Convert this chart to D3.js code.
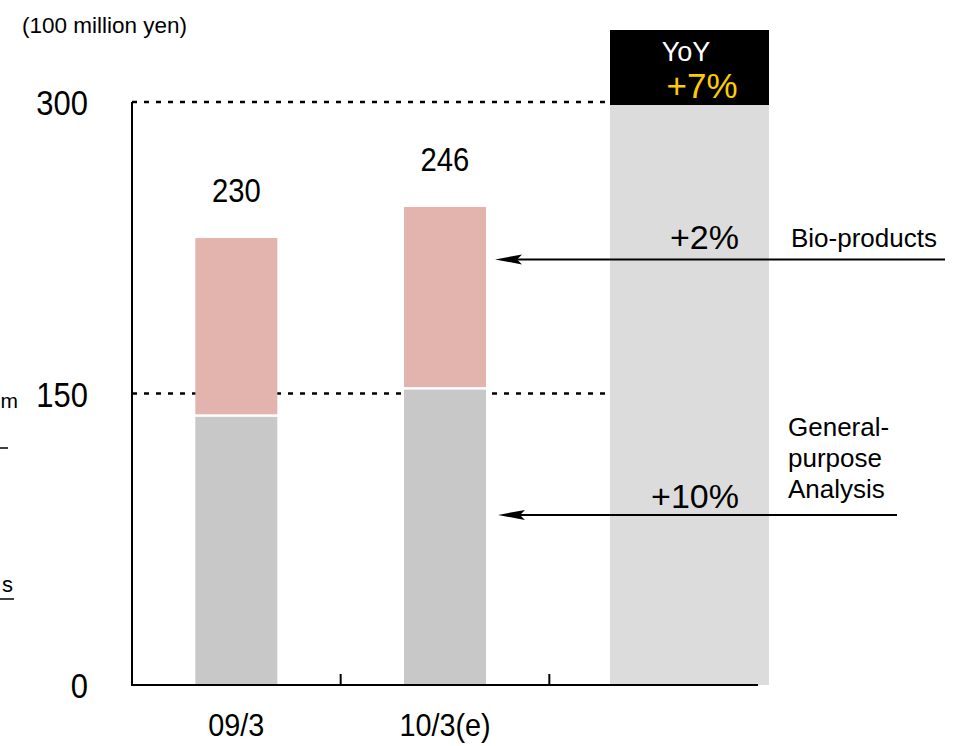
<!DOCTYPE html>
<html>
<head>
<meta charset="utf-8">
<script src="https://cdn.jsdelivr.net/npm/d3@7"></script>
<style>
  body { margin: 0; background: #fff; }
  svg { display: block; font-family: "Liberation Sans", Arial, sans-serif; }
</style>
</head>
<body>
<div id="chart"></div>
<script>
// data (100 million yen)
var categories = ["09/3", "10/3(e)", "YoY"];
var generalPurpose = [138, 152];
var bioProducts = [92, 94];
var totals = [230, 246];
var yTicks = [0, 150, 300];
var gridTicks = [150, 300];
var yoyTotal = "+7%";
var segmentNames = ["Bio-products", ["General-", "purpose", "Analysis"]];
var segmentGrowth = ["+2%", "+10%"];
var arrowLevels = [219, 87.5];

var width = 956, height = 746;
var svg = d3.select("#chart").append("svg")
    .attr("width", width)
    .attr("height", height);

var x = d3.scaleBand()
    .domain(categories)
    .range([132, 758])
    .padding(0);

var y = d3.scaleLinear()
    .domain([0, 300])
    .range([685, 102]);

var barWidth = 82;
var colX0 = 610, colX1 = 769;

// condensed text helper (the original uses a narrow gothic face)
function narrowText(g, px, py, str, size, sx, anchor) {
  g.append("g")
    .attr("transform", "translate(" + px + "," + py + ")")
    .append("text")
    .attr("transform", "scale(" + sx + ",1)")
    .attr("text-anchor", anchor)
    .attr("font-size", size)
    .attr("fill", "#000")
    .text(str);
}

// YoY column
svg.append("rect")
    .attr("x", colX0).attr("y", y(300) + 3)
    .attr("width", colX1 - colX0).attr("height", y(0) - y(300) - 3)
    .attr("fill", "#dcdcdc");
svg.append("rect")
    .attr("x", colX0).attr("y", 30)
    .attr("width", colX1 - colX0).attr("height", y(300) + 3 - 30)
    .attr("fill", "#000");
svg.append("text")
    .attr("x", 686).attr("y", 61)
    .attr("text-anchor", "middle")
    .attr("font-size", 27)
    .attr("fill", "#fff")
    .text("YoY");
svg.append("text")
    .attr("x", 702).attr("y", 98)
    .attr("text-anchor", "middle")
    .attr("font-size", 35)
    .attr("fill", "#ffcc00")
    .text(yoyTotal);

// dashed gridlines
svg.selectAll("line.grid")
    .data(gridTicks)
    .enter().append("line")
    .attr("class", "grid")
    .attr("x1", 132).attr("x2", colX0)
    .attr("y1", function (d) { return y(d); })
    .attr("y2", function (d) { return y(d); })
    .attr("stroke", "#000")
    .attr("stroke-width", 2.5)
    .attr("stroke-dasharray", "5,7");

// stacked bars
var barData = generalPurpose.map(function (g, i) {
  return { cat: categories[i], gp: g, bio: bioProducts[i], total: totals[i] };
});

var bars = svg.selectAll("g.bar")
    .data(barData)
    .enter().append("g")
    .attr("class", "bar");

bars.append("rect")
    .attr("x", function (d) { return x(d.cat) + x.bandwidth() / 2 - barWidth / 2; })
    .attr("y", function (d) { return y(d.gp); })
    .attr("width", barWidth)
    .attr("height", function (d) { return y(0) - y(d.gp); })
    .attr("fill", "#c8c8c8");

bars.append("rect")
    .attr("x", function (d) { return x(d.cat) + x.bandwidth() / 2 - barWidth / 2; })
    .attr("y", function (d) { return y(d.gp + d.bio); })
    .attr("width", barWidth)
    .attr("height", function (d) { return y(d.gp) - y(d.gp + d.bio) - 2.5; })
    .attr("fill", "#e3b4ad");

bars.each(function (d) {
  narrowText(d3.select(this), x(d.cat) + x.bandwidth() / 2, y(d.total) - 36, d.total, 34, 0.86, "middle");
});

// axes
svg.append("line")
    .attr("x1", 132).attr("x2", 132)
    .attr("y1", y(300)).attr("y2", y(0))
    .attr("stroke", "#000").attr("stroke-width", 2);
svg.append("line")
    .attr("x1", 131).attr("x2", 758)
    .attr("y1", y(0)).attr("y2", y(0))
    .attr("stroke", "#000").attr("stroke-width", 2);

// ticks between categories
svg.selectAll("line.xtick")
    .data(categories.slice(1))
    .enter().append("line")
    .attr("class", "xtick")
    .attr("x1", function (d) { return x(d); })
    .attr("x2", function (d) { return x(d); })
    .attr("y1", y(0) - 11).attr("y2", y(0))
    .attr("stroke", "#000").attr("stroke-width", 2);

yTicks.forEach(function (t) {
  narrowText(svg, 88, y(t) + 13, t, 36, 0.86, "end");
});

categories.slice(0, 2).forEach(function (c) {
  narrowText(svg, x(c) + x.bandwidth() / 2, 736, c, 32, 0.9, "middle");
});

svg.append("text")
    .attr("x", 22).attr("y", 33)
    .attr("font-size", 22.5)
    .text("(100 million yen)");

// arrows and segment notes
var arrowTipX = [495, 498], arrowEndX = [945, 897];
arrowLevels.forEach(function (v, i) {
  var yy = y(v);
  svg.append("line")
    .attr("x1", arrowTipX[i] + 20).attr("x2", arrowEndX[i])
    .attr("y1", yy).attr("y2", yy)
    .attr("stroke", "#000").attr("stroke-width", 2);
  svg.append("path")
    .attr("d", "M" + arrowTipX[i] + "," + yy + "L" + (arrowTipX[i] + 27) + "," + (yy - 5) +
          "L" + (arrowTipX[i] + 22) + "," + yy + "L" + (arrowTipX[i] + 27) + "," + (yy + 5) + "Z")
    .attr("fill", "#000");
});

svg.append("text")
    .attr("x", 739).attr("y", 249)
    .attr("text-anchor", "end")
    .attr("font-size", 34)
    .text(segmentGrowth[0]);
svg.append("text")
    .attr("x", 739).attr("y", 508)
    .attr("text-anchor", "end")
    .attr("font-size", 34)
    .text(segmentGrowth[1]);

svg.append("text")
    .attr("x", 791).attr("y", 247)
    .attr("font-size", 26)
    .text(segmentNames[0]);
svg.append("text")
    .attr("x", 788).attr("y", 436)
    .attr("font-size", 26)
    .selectAll("tspan")
    .data(segmentNames[1])
    .enter().append("tspan")
    .attr("x", 788)
    .attr("dy", function (d, i) { return i === 0 ? 0 : 31; })
    .text(function (d) { return d; });

// clipped fragments at the left edge of the slide
svg.append("text").attr("x", 18).attr("y", 408).attr("text-anchor", "end").attr("font-size", 21).text("m");
svg.append("line").attr("x1", 0).attr("x2", 8).attr("y1", 448).attr("y2", 448).attr("stroke", "#000").attr("stroke-width", 1.5);
svg.append("text").attr("x", 13).attr("y", 592).attr("text-anchor", "end").attr("font-size", 22).text("s");
svg.append("line").attr("x1", 0).attr("x2", 14).attr("y1", 599).attr("y2", 599).attr("stroke", "#000").attr("stroke-width", 1.5);
</script>
</body>
</html>
